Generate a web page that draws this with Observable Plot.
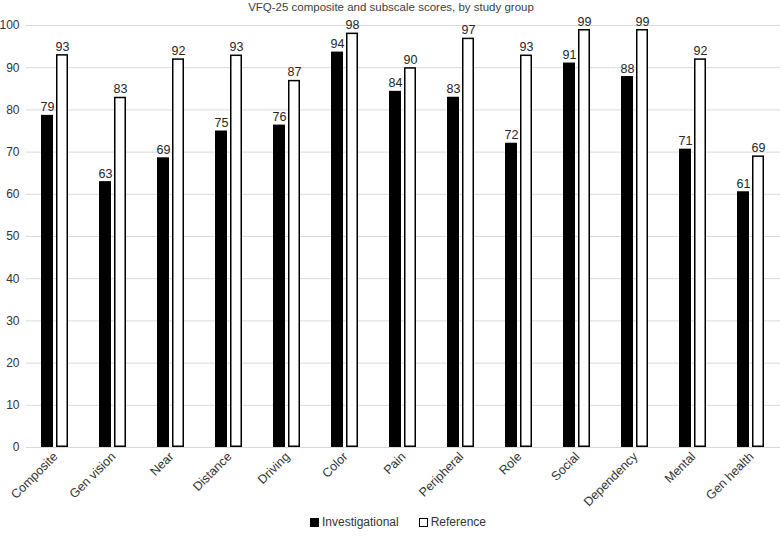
<!DOCTYPE html>
<html>
<head>
<meta charset="utf-8">
<script src="https://cdn.jsdelivr.net/npm/d3@7"></script>
<script src="https://cdn.jsdelivr.net/npm/@observablehq/plot@0.6"></script>
<style>
  html, body { margin: 0; padding: 0; background: #fff; }
  body { width: 782px; height: 539px; overflow: hidden; font-family: "Liberation Sans", Arial, sans-serif; color: #333; }
  #title { height: 14px; line-height: 14px; font-size: 11.5px; text-align: center; color: #404040; }
  #legend { height: 14px; line-height: 14px; font-size: 12px; text-align: center; color: #333; margin-top: 1px; padding-left: 14px; }
  #legend .item { display: inline-block; margin: 0 10px; }
  #legend .sw { display: inline-block; width: 7px; height: 7px; border: 1.5px solid #000; vertical-align: -1px; margin-right: 3px; }
  svg { overflow: visible; }
</style>
</head>
<body>
<div id="title">VFQ-25 composite and subscale scores, by study group</div>
<div id="chart"></div>
<div id="legend"></div>
<script>
const categories = ["Composite", "Gen vision", "Near", "Distance", "Driving", "Color", "Pain", "Peripheral", "Role", "Social", "Dependency", "Mental", "Gen health"];
const groups = ["Investigational", "Reference"];
const investigational = [78.7, 63.0, 68.65, 75.0, 76.4, 93.7, 84.4, 83.0, 72.1, 91.1, 87.9, 70.7, 60.6];
const reference = [93.1, 83.0, 92.1, 93.0, 87.0, 98.2, 90.0, 97.0, 93.0, 99.05, 99.05, 92.1, 69.1];
const investigationalLabels = [79, 63, 69, 75, 76, 94, 84, 83, 72, 91, 88, 71, 61];
const referenceLabels = [93, 83, 92, 93, 87, 98, 90, 97, 93, 99, 99, 92, 69];
const yTicks = [0, 10, 20, 30, 40, 50, 60, 70, 80, 90, 100];
const groupColors = ["#000000", "#ffffff"];

const data = [];
categories.forEach((c, i) => {
  data.push({category: c, group: groups[0], value: investigational[i], label: investigationalLabels[i]});
  data.push({category: c, group: groups[1], value: reference[i], label: referenceLabels[i]});
});

const chart = Plot.plot({
  width: 782,
  height: 500,
  marginTop: 11,
  marginLeft: 25,
  marginRight: 2,
  marginBottom: 67,
  style: {fontFamily: "Liberation Sans, Arial, sans-serif", fontSize: "12px", color: "#333", background: "#fff"},
  fx: {domain: categories, padding: 0, axis: null, label: null},
  x: {domain: groups, paddingInner: 0.19, paddingOuter: 0.97, axis: null},
  y: {domain: [0, 100], ticks: yTicks, tickSize: 0, tickPadding: 7, label: null},
  color: {domain: groups, range: groupColors},
  marks: [
    Plot.ruleY(yTicks, {stroke: "#d9d9d9", strokeWidth: 1}),
    Plot.barY(data, {fx: "category", x: "group", y: "value", fill: "group", stroke: "#000", strokeWidth: 1.5, inset: 0.75}),
    Plot.text(data, {fx: "category", x: "group", y: "value", text: "label", lineAnchor: "bottom", dy: -4, fill: "#262626", fontSize: 12.5}),
    Plot.text(categories, {fx: d => d, text: d => d, frameAnchor: "bottom", rotate: -45, textAnchor: "end", lineAnchor: "middle", dx: 0, dy: 7, fill: "#333", fontSize: 12.5})
  ]
});
document.getElementById("chart").appendChild(chart);

const legend = document.getElementById("legend");
groups.forEach((g, i) => {
  const item = document.createElement("span");
  item.className = "item";
  const sw = document.createElement("span");
  sw.className = "sw";
  sw.style.background = groupColors[i];
  item.appendChild(sw);
  item.appendChild(document.createTextNode(g));
  legend.appendChild(item);
});
</script>
</body>
</html>
